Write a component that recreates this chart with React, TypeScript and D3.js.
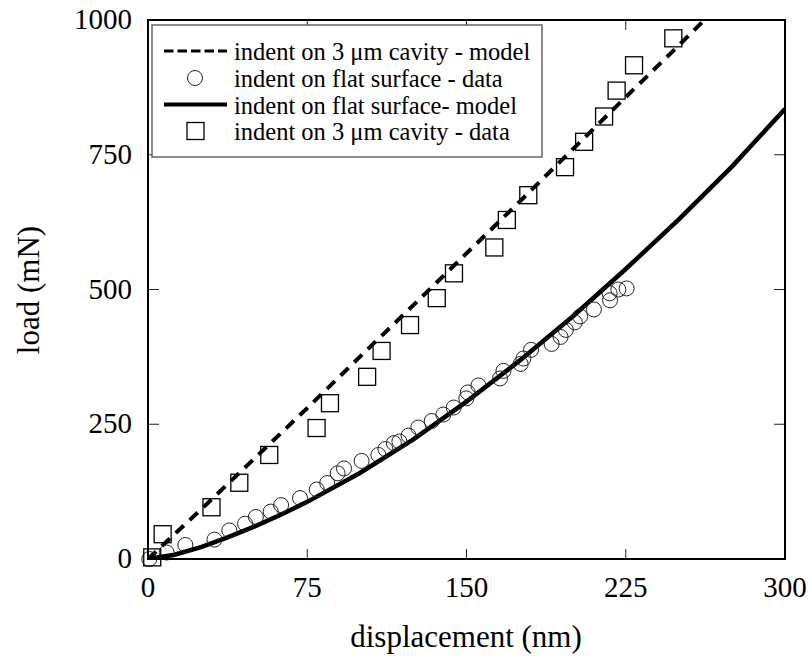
import React from "react";
import * as d3 from "d3";

// flat surface - data (circles)
const flatX = [0.6, 8.8, 17.6, 31.3, 38.3, 45.7, 50.8, 57.8, 62.7, 71.6, 79.5, 84.4, 89.3, 92.3, 100.6, 108.5, 111.8, 115.8, 118.4, 122.7, 127.3, 133.6, 139.1, 144, 149.9, 150.6, 155.6, 165.8, 167.4, 175.5, 176.8, 180.4, 190.1, 194.3, 196.8, 201, 203.5, 210, 217.6, 217.4, 221.5, 225.4];
const flatY = [0, 12, 26, 36, 53, 65.5, 78, 88, 100, 113, 129, 141, 159, 168, 182, 193, 204, 215, 218, 229, 244, 256, 268, 281, 298, 309, 322, 335, 349, 362, 372, 388, 399, 412, 425, 439, 450, 463, 480, 493, 500, 502];

// 3 µm cavity - data (squares)
const cavX = [2, 6.9, 29.9, 43, 57.1, 79.4, 85.7, 103.2, 110, 123.4, 136, 144.1, 163.1, 169, 179.1, 196.4, 205.4, 214.8, 220.7, 228.9, 247.4];
const cavY = [3, 46, 96, 141.5, 193, 243, 289, 338, 386, 434, 484, 530, 578, 629, 675, 727, 774, 821, 869, 916, 966];

// flat surface - model (solid)
const flatModelX = [0, 12.5, 25, 37.5, 50, 62.5, 75, 100, 125, 150, 175, 200, 225, 250, 275, 300];
const flatModelY = [0, 8, 22, 40, 60, 82, 106, 160, 222, 292, 368, 450, 538, 630, 728, 835];

// 3 µm cavity - model (dashed)
const cavModelX = [0, 25, 50, 75, 100, 125, 150, 175, 200, 225, 250, 262];
const cavModelY = [0, 92, 186, 280, 376, 471, 567, 663, 760, 857, 953, 1000];

const xTicks = [0, 75, 150, 225, 300];
const yTicks = [0, 250, 500, 750, 1000];

const legendLabels = [
  "indent on 3 \u03bcm cavity - model",
  "indent on flat surface - data",
  "indent on flat surface- model",
  "indent on 3 \u03bcm cavity - data",
];

const FONT = "Liberation Serif, DejaVu Serif, serif";

export default function App() {
  const W = 812, H = 659;
  const L = 148, R = 785, T = 20, B = 559;
  const x = d3.scaleLinear().domain([0, 300]).range([L, R]);
  const y = d3.scaleLinear().domain([0, 1000]).range([B, T]);

  const line = d3.line<[number, number]>().x((d) => x(d[0])).y((d) => y(d[1]));
  const solidPath = line(flatModelX.map((v, i) => [v, flatModelY[i]]) as [number, number][]) || "";
  const dashPath = line(cavModelX.map((v, i) => [v, cavModelY[i]]) as [number, number][]) || "";

  const sq = 17;
  const cr = 7.5;
  const legY = [51, 78, 104.5, 131];
  const ts = { fontFamily: FONT };

  return (
    <svg width={W} height={H} style={{ position: "absolute", left: 0, top: 0, background: "#fff", fontFamily: FONT }}>
      <defs>
        <clipPath id="plotclip">
          <rect x={L} y={T} width={R - L} height={B - T} />
        </clipPath>
      </defs>

      {xTicks.map((t) => (
        <g key={"xt" + t}>
          <line x1={x(t)} x2={x(t)} y1={B} y2={B - 10} stroke="#222" strokeWidth={1} />
          <line x1={x(t)} x2={x(t)} y1={T} y2={T + 10} stroke="#222" strokeWidth={1} />
          <text x={x(t)} y={597} textAnchor="middle" fontSize={29} fill="#000" style={ts}>{t}</text>
        </g>
      ))}
      {yTicks.map((t) => (
        <g key={"yt" + t}>
          <line x1={L} x2={L + 11} y1={y(t)} y2={y(t)} stroke="#222" strokeWidth={1} />
          <line x1={R} x2={R - 11} y1={y(t)} y2={y(t)} stroke="#222" strokeWidth={1} />
          <text x={132} y={y(t) + 9} textAnchor="end" fontSize={29} fill="#000" style={ts}>{t}</text>
        </g>
      ))}

      <g clipPath="url(#plotclip)">
        <path d={dashPath} fill="none" stroke="#000" strokeWidth={4} strokeDasharray="11,8" />
        <path d={solidPath} fill="none" stroke="#000" strokeWidth={4.5} />
      </g>

      {flatX.map((v, i) => (
        <circle key={"c" + i} cx={x(v)} cy={y(flatY[i])} r={cr} fill="none" stroke="#222" strokeWidth={1} />
      ))}
      {cavX.map((v, i) => (
        <rect key={"s" + i} x={x(v) - sq / 2} y={y(cavY[i]) - sq / 2} width={sq} height={sq} fill="none" stroke="#000" strokeWidth={1.3} />
      ))}

      <rect x={L} y={T} width={R - L} height={B - T} fill="none" stroke="#000" strokeWidth={2} />

      <rect x={152} y={25} width={390} height={132} fill="#fff" stroke="#666" strokeWidth={1.5} />
      <line x1={164} x2={227} y1={legY[0]} y2={legY[0]} stroke="#000" strokeWidth={3} strokeDasharray="9.5,4" />
      <circle cx={195} cy={legY[1]} r={cr} fill="none" stroke="#222" strokeWidth={1} />
      <line x1={164} x2={227} y1={legY[2]} y2={legY[2]} stroke="#000" strokeWidth={4} />
      <rect x={195.5 - sq / 2} y={legY[3] - sq / 2} width={sq} height={sq} fill="none" stroke="#000" strokeWidth={1.3} />
      {legendLabels.map((s, i) => (
        <text key={"lg" + i} x={234} y={legY[i] + 9} fontSize={24.5} fill="#000" style={ts}>{s}</text>
      ))}

      <text x={466} y={647} textAnchor="middle" fontSize={31} fill="#000" style={ts}>displacement (nm)</text>
      <text transform="translate(39,290) rotate(-90)" textAnchor="middle" fontSize={31} fill="#000" style={ts}>load (mN)</text>
    </svg>
  );
}
